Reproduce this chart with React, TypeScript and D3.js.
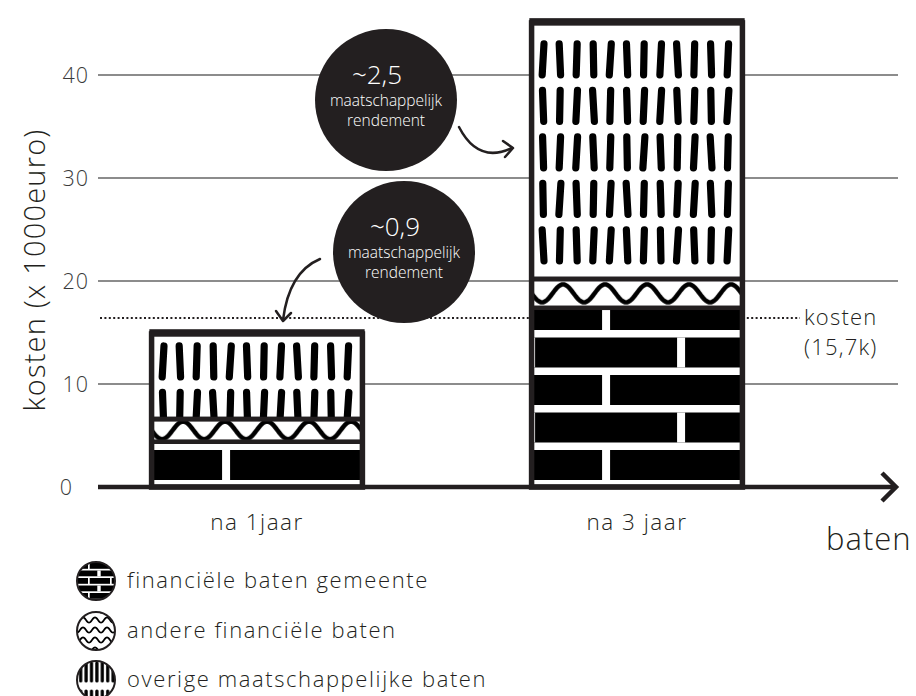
import React from 'react';
import * as d3 from 'd3';

const categories = ['na 1jaar', 'na 3 jaar'];
const financieleBatenGemeente = [4.4, 17.4];
const andereFinancieleBaten = [2.2, 2.8];
const overigeMaatschappelijkeBaten = [8.5, 25.1];
const seriesNames = ['financiële baten gemeente', 'andere financiële baten', 'overige maatschappelijke baten'];
const kostenValue = 16.4;
const kostenLabel = ['kosten', '(15,7k)'];
const yTicks = [0, 10, 20, 30, 40];
const rendementValues = ['~0,9', '~2,5'];
const rendementLines = ['maatschappelijk', 'rendement'];
const yAxisTitle = 'kosten (x 1000euro)';
const xAxisTitle = 'baten';

const W = 916;
const H = 696;
const FONT = "'Open Sans', Lato, sans-serif";
const FW = 300;
const DARK = '#231f20';
const GRID = '#666';
const pillOffset = [11, 20];
const PILL_STEP = 46.5;
const PILL_DX = 16.8;
const pillTilt = [0.9, -0.7, 0.5, -0.3, 1.0, -0.6, 0.3, 0.8, -0.9, 0.4, -0.5, 0.7];

function wavePath(period: number, c: number, a: number, x0: number, x1: number, step = 1) {
  const pts: [number, number][] = d3.range(x0, x1 + step / 2, step).map((t) => [t, c + a * Math.cos((2 * Math.PI * t) / period)] as [number, number]);
  return d3.line()(pts) || '';
}

export default function App() {
  const y = d3.scaleLinear().domain([0, 40]).range([487, 75]);
  const x = d3.scaleBand<string>().domain(categories).range([67, 827]).paddingInner(0.432).paddingOuter(0.216);
  const bw = x.bandwidth();
  const rows = categories.map((c, i) => ({
    cat: c,
    fin: financieleBatenGemeente[i],
    andere: andereFinancieleBaten[i],
    overig: overigeMaatschappelijkeBaten[i],
  }));
  const keys = ['fin', 'andere', 'overig'];
  const stacked = d3.stack<any>().keys(keys)(rows);

  const segs = stacked.map((s, k) =>
    s.map((d, i) => {
      const left = x(categories[i]) as number;
      const top = y(d[1]);
      const bottom = y(d[0]);
      return { k, i, left, top, bottom, h: bottom - top };
    })
  );

  const totals = rows.map((r) => r.fin + r.andere + r.overig);

  const defs: React.ReactNode[] = [];
  categories.forEach((c, i) => {
    const left = x(c) as number;
    defs.push(
      <pattern key={'b' + i} id={'pat-0-' + i} patternUnits="userSpaceOnUse" x={left} y={y(0) - 37} width={150} height={75}>
        <rect x={0} y={0} width={150} height={75} fill="#000" />
        <rect x={0} y={30} width={150} height={7.5} fill="#fff" />
        <rect x={0} y={67.5} width={150} height={7.5} fill="#fff" />
        <rect x={73} y={0} width={8} height={30} fill="#fff" />
        <rect x={148} y={37.5} width={8} height={30} fill="#fff" />
        <rect x={-2} y={37.5} width={8} height={30} fill="#fff" />
      </pattern>
    );
    const ws = segs[1][i];
    const amp = Math.min(9, ws.h / 2 - 2.5);
    defs.push(
      <pattern key={'w' + i} id={'pat-1-' + i} patternUnits="userSpaceOnUse" x={left + 13} y={ws.top} width={42} height={ws.h}>
        <rect x={0} y={0} width={42} height={ws.h} fill="#fff" />
        <path d={wavePath(42, ws.h / 2, amp, -4, 46)} fill="none" stroke="#000" strokeWidth={4.5} />
      </pattern>
    );
    const ps = segs[2][i];
    defs.push(
      <clipPath key={'c' + i} id={'clip-2-' + i}>
        <rect x={ps.left} y={ps.top} width={bw} height={ps.h} />
      </clipPath>
    );
  });

  const pills = segs[2].map((ps, i) => {
    const rowStarts = d3.range(ps.top + pillOffset[i], ps.bottom - 20, PILL_STEP);
    const cols = d3.range(0, 12);
    const out: React.ReactNode[] = [];
    rowStarts.forEach((ry, r) => {
      cols.forEach((cI) => {
        const cx = ps.left + 14 + cI * PILL_DX;
        const t = pillTilt[(cI + r * 5) % pillTilt.length];
        out.push(<line key={r + '-' + cI} x1={cx + t} y1={ry + 3.5} x2={cx - t} y2={ry + 34.5} />);
      });
    });
    return (
      <g key={'pl' + i} clipPath={`url(#clip-2-${i})`} stroke="#000" strokeWidth={7.2} strokeLinecap="round">
        {out}
      </g>
    );
  });

  const legY = [581, 631, 680];
  const legX = 96;
  const legR = 19;

  return (
    <svg width={W} height={H} style={{ position: 'absolute', left: 0, top: 0, background: '#fff' }} fontFamily={FONT} fontWeight={FW}>
      <defs>
        {defs}
        <pattern id="leg-brick" patternUnits="userSpaceOnUse" x={legX - legR} y={legY[0] - legR + 1} width={22} height={15}>
          <rect x={0} y={0} width={22} height={15} fill="#000" />
          <rect x={0} y={5.8} width={22} height={1.7} fill="#fff" />
          <rect x={0} y={13.3} width={22} height={1.7} fill="#fff" />
          <rect x={11} y={0} width={1.7} height={6} fill="#fff" />
          <rect x={0} y={7.5} width={1.7} height={6} fill="#fff" />
          <rect x={20.3} y={7.5} width={1.7} height={6} fill="#fff" />
        </pattern>
        <pattern id="leg-wave" patternUnits="userSpaceOnUse" x={legX - legR} y={legY[1] - legR + 3} width={12} height={10}>
          <rect x={0} y={0} width={12} height={10} fill="#fff" />
          <path d={wavePath(12, 5, 2.6, -2, 14, 0.5)} fill="none" stroke="#000" strokeWidth={1.8} />
        </pattern>
        <pattern id="leg-pill" patternUnits="userSpaceOnUse" x={legX - legR + 1} y={legY[2] - legR} width={5.4} height={28}>
          <rect x={0} y={0} width={5.4} height={28} fill="#fff" />
          <line x1={2.7} y1={2} x2={2.7} y2={20} stroke="#000" strokeWidth={3.2} strokeLinecap="round" />
        </pattern>
      </defs>

      <g>
        {yTicks.filter((t) => t > 0).map((t) => (
          <line key={t} x1={98} x2={898} y1={y(t)} y2={y(t)} stroke={GRID} strokeWidth={1.5} />
        ))}
      </g>

      <g fill="#3a3a3a" fontSize={21.5} letterSpacing={1}>
        {yTicks.map((t) => (
          <text key={t} x={t === 0 ? 73 : 89} y={y(t)} dy="0.36em" textAnchor="end">
            {t}
          </text>
        ))}
      </g>

      <text transform={`translate(35, 270) rotate(-90)`} textAnchor="middle" dy="0.35em" fontSize={29} letterSpacing={1.2} fill={DARK}>
        {yAxisTitle}
      </text>

      <line x1={100} x2={800} y1={y(kostenValue)} y2={y(kostenValue)} stroke={DARK} strokeWidth={2} strokeDasharray="2,2.4" />
      <g fill={DARK} fontSize={22} letterSpacing={1.2}>
        <text x={804} y={y(kostenValue) + 7}>{kostenLabel[0]}</text>
        <text x={804} y={y(kostenValue) + 37}>{kostenLabel[1]}</text>
      </g>

      <g>
        {segs.map((s) =>
          s.map((d) => (
            <rect
              key={d.k + '-' + d.i}
              x={d.left + 2.5}
              y={d.top}
              width={bw - 5}
              height={d.h}
              fill={d.k === 2 ? '#fff' : `url(#pat-${d.k}-${d.i})`}
              stroke={DARK}
              strokeWidth={4.5}
            />
          ))
        )}
        {pills}
        {segs[2].map((d) => (
          <line key={'sep' + d.i} x1={d.left} x2={d.left + bw} y1={d.bottom} y2={d.bottom} stroke={DARK} strokeWidth={4.5} />
        ))}
        {categories.map((c, i) => (
          <rect
            key={'o' + i}
            x={(x(c) as number) + 2.5}
            y={y(totals[i]) + 2.5}
            width={bw - 5}
            height={y(0) - y(totals[i]) - 2.5}
            fill="none"
            stroke={DARK}
            strokeWidth={5.5}
          />
        ))}
      </g>

      <line x1={98} x2={894} y1={y(0)} y2={y(0)} stroke={DARK} strokeWidth={4.5} />
      <polyline points={`882,473 896,487 882,501`} fill="none" stroke={DARK} strokeWidth={4.5} strokeLinejoin="miter" />
      <g fill={DARK} fontSize={22.5} letterSpacing={1.5}>
        {categories.map((c) => (
          <text key={c} x={(x(c) as number) + bw / 2} y={530} textAnchor="middle">
            {c}
          </text>
        ))}
      </g>
      <text x={826} y={550} fontSize={31} letterSpacing={1} fill={DARK}>
        {xAxisTitle}
      </text>

      {[
        { cx: 404, cy: 252, v: rendementValues[0] },
        { cx: 386, cy: 100, v: rendementValues[1] },
      ].map((b, j) => (
        <g key={'bub' + j}>
          <circle cx={b.cx} cy={b.cy} r={71} fill={DARK} />
          <text x={b.cx - 9} y={b.cy - 16} textAnchor="middle" fontSize={26} fill="#fff">
            {b.v}
          </text>
          <text x={b.cx} y={b.cy + 6} textAnchor="middle" fontSize={15.5} fill="#fff">
            {rendementLines[0]}
          </text>
          <text x={b.cx} y={b.cy + 26} textAnchor="middle" fontSize={15.5} fill="#fff">
            {rendementLines[1]}
          </text>
        </g>
      ))}

      <g fill="none" stroke={DARK} strokeWidth={2.5} strokeLinecap="round" strokeLinejoin="round">
        <path d="M459,127 Q478,164 512,148" />
        <polyline points="503,141 513,148 505,157" />
        <path d="M320,259 Q289,272 283,320" />
        <polyline points="276,311 283,321 291,313" />
      </g>

      <g>
        <circle cx={legX} cy={legY[0]} r={legR} fill="url(#leg-brick)" stroke={DARK} strokeWidth={2} />
        <circle cx={legX} cy={legY[1]} r={legR} fill="url(#leg-wave)" stroke={DARK} strokeWidth={2} />
        <circle cx={legX} cy={legY[2]} r={legR} fill="url(#leg-pill)" stroke={DARK} strokeWidth={2} />
      </g>
      <g fill={DARK} fontSize={22} letterSpacing={1.6}>
        {seriesNames.map((n, k) => (
          <text key={n} x={127} y={legY[k] + 7}>
            {n}
          </text>
        ))}
      </g>
    </svg>
  );
}
